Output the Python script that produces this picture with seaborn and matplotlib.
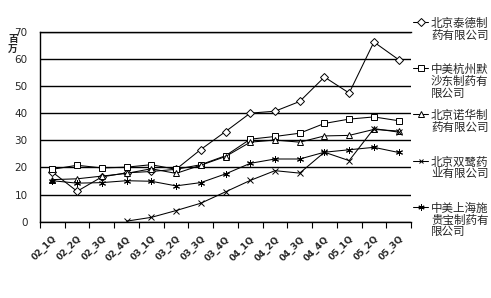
import numpy as np
import pandas as pd
import matplotlib
matplotlib.use("Agg")
import matplotlib.pyplot as plt
import seaborn as sns
from matplotlib.lines import Line2D

quarters = ["02_1Q", "02_2Q", "02_3Q", "02_4Q", "03_1Q", "03_2Q", "03_3Q", "03_4Q",
            "04_1Q", "04_2Q", "04_3Q", "04_4Q", "05_1Q", "05_2Q", "05_3Q"]
companies = ["北京泰德制药有限公司", "中美杭州默沙东制药有限公司", "北京诺华制药有限公司",
             "北京双鹭药业有限公司", "中美上海施贵宝制药有限公司"]
tai_de = [18.3, 11.2, 16.5, 18.0, 18.5, 19.3, 26.6, 33.2, 40.0, 40.7, 44.3, 53.3, 47.4, 66.2, 59.7]
msd = [19.3, 20.8, 19.8, 20.1, 21.0, 19.3, 21.0, 24.3, 30.4, 31.4, 32.6, 36.2, 37.8, 38.6, 37.2]
novartis = [15.5, 15.8, 16.8, 17.8, 19.5, 17.8, 20.8, 24.0, 29.3, 30.1, 29.3, 31.6, 31.8, 34.0, 33.4]
shuanglu = [None, None, None, 0.2, 1.6, 4.1, 6.8, 11.0, 15.2, 18.8, 17.9, 25.6, 22.5, 34.3, 33.0]
bms = [15.1, 14.2, 14.4, 15.1, 14.9, 13.2, 14.4, 17.6, 21.5, 23.1, 23.1, 25.6, 26.5, 27.4, 25.5]
y_ticks = [0, 10, 20, 30, 40, 50, 60, 70]
y_unit = "百万"

series = [tai_de, msd, novartis, shuanglu, bms]
markers = ["D", "s", "^", "x", (6, 2, 0)]
msizes = [4.0, 4.5, 4.5, 4.0, 5.0]

sns.set_theme(style="white")
plt.rcParams["font.family"] = ["DejaVu Sans", "Noto Sans CJK SC"]

W, H = 491, 298
fig = plt.figure(figsize=(W / 100, H / 100), dpi=100)
ax = fig.add_axes([40 / W, 1 - 221.7 / H, 371 / W, 190 / H])

for vals, m, ms in zip(series, markers, msizes):
    df = pd.DataFrame({"x": np.arange(len(quarters)), "v": vals}).dropna()
    sns.lineplot(data=df, x="x", y="v", ax=ax, color="black", marker=m, markersize=ms,
                 markerfacecolor="white", markeredgecolor="black", markeredgewidth=0.7,
                 linewidth=0.75, legend=False)

ax.set_xlim(-0.5, len(quarters) - 0.5)
ax.set_ylim(0, 70)
ax.set_yticks(y_ticks)
ax.set_yticklabels([str(t) for t in y_ticks], fontsize=7.5)
ax.set_xticks(np.arange(len(quarters)))
ax.set_xticklabels(quarters, fontsize=6.5, fontweight="bold", rotation=45, ha="right",
                   rotation_mode="anchor")
ax.set_xticks(np.arange(len(quarters) + 1) - 0.5, minor=True)
ax.tick_params(axis="x", which="major", length=0, pad=9)
ax.tick_params(axis="x", which="minor", length=4, width=0.8, color="black", direction="out", bottom=True)
ax.tick_params(axis="y", length=0, pad=9)
ax.set_xlabel("")
ax.set_ylabel("")
ax.yaxis.grid(True, color="black", linewidth=1.0)
ax.xaxis.grid(False)
for s in ["left", "bottom", "top"]:
    ax.spines[s].set_visible(True)
    ax.spines[s].set_color("black")
    ax.spines[s].set_linewidth(1.0)
ax.spines["right"].set_visible(False)

fig.text(13 / W, 1 - 34 / H, "\n".join(y_unit), ha="center", va="top", fontsize=7,
         fontweight="bold", family=["Noto Sans CJK SC"], linespacing=1.0)

leg_y = [22, 68, 114, 161, 207]
leg_ms = [4.0, 4.5, 4.5, 3.5, 4.5]
for name, m, ms, yy in zip(companies, markers, leg_ms, leg_y):
    fy = 1 - yy / H
    fig.add_artist(Line2D([413 / W, 420.5 / W, 428 / W], [fy, fy, fy], transform=fig.transFigure,
                          color="black", linewidth=0.75, marker=m, markersize=ms,
                          markevery=[1], markerfacecolor="white", markeredgecolor="black",
                          markeredgewidth=0.7))
    label = "\n".join(name[i:i + 5] for i in range(0, len(name), 5))
    fig.text(431 / W, 1 - (yy - 5.5) / H, label, ha="left", va="top", fontsize=8.3,
             family=["Noto Sans CJK SC"], linespacing=0.9)

fig.savefig("out.png", dpi=100)
